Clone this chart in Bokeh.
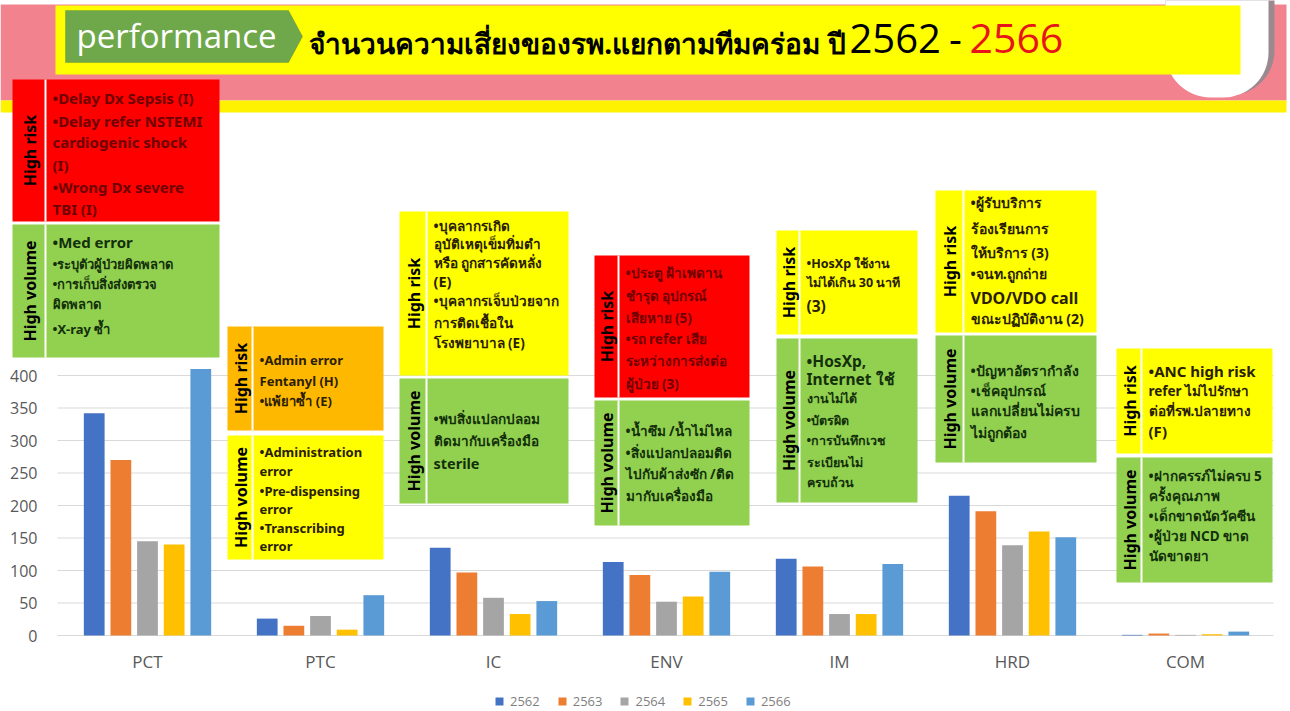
from bokeh.plotting import figure
from bokeh.models import (ColumnDataSource, Range1d, FixedTicker, Legend, LegendItem,
                          BoxAnnotation, Label, PolyAnnotation)
from bokeh.transform import dodge
from bokeh.embed import file_html
from bokeh.resources import INLINE

# ---------------- data ----------------
categories = ["PCT", "PTC", "IC", "ENV", "IM", "HRD", "COM"]
years = ["2562", "2563", "2564", "2565", "2566"]
v2562 = [342, 26, 135, 113, 118, 215, 1]
v2563 = [270, 15, 97, 93, 106, 191, 3]
v2564 = [145, 30, 58, 52, 33, 139, 1]
v2565 = [140, 9, 33, 60, 33, 160, 2]
v2566 = [410, 62, 53, 98, 110, 151, 6]
y_ticks = [0, 50, 100, 150, 200, 250, 300, 350, 400]
series_colors = ["#4472C4", "#ED7D31", "#A5A5A5", "#FFC000", "#5B9BD5"]

title_text = "จำนวนความเสี่ยงของรพ.แยกตามทีมคร่อม ปี"
title_from = "2562"
title_dash = "-"
title_to = "2566"

# annotation boxes: risk lines / volume lines
pct_risk = ["•Delay Dx Sepsis (I)", "•Delay refer NSTEMI", "cardiogenic shock", "(I)", "•Wrong  Dx severe", "TBI (I)"]
pct_vol = ["•Med error", "•ระบุตัวผู้ป่วยผิดพลาด", "•การเก็บสิ่งส่งตรวจ", "ผิดพลาด", "•X-ray ซ้ำ"]
ptc_risk = ["•Admin error", "Fentanyl (H)", "•แพ้ยาซ้ำ (E)"]
ptc_vol = ["•Administration", "error", "•Pre-dispensing", "error", "•Transcribing", "error"]
ic_risk = ["•บุคลากรเกิด", "อุบัติเหตุเข็มทิ่มตำ", "หรือ ถูกสารคัดหลั่ง", "(E)", "•บุคลากรเจ็บป่วยจาก", "การติดเชื้อใน", "โรงพยาบาล (E)"]
ic_vol = ["•พบสิ่งแปลกปลอม", "ติดมากับเครื่องมือ", "sterile"]
env_risk = ["•ประตู ฝ้าเพดาน", "ชำรุด อุปกรณ์", "เสียหาย (5)", "•รถ refer เสีย", "ระหว่างการส่งต่อ", "ผู้ป่วย (3)"]
env_vol = ["•น้ำซึม /น้ำไม่ไหล", "•สิ่งแปลกปลอมติด", "ไปกับผ้าส่งซัก /ติด", "มากับเครื่องมือ"]
im_risk = ["•HosXp ใช้งาน", "ไม่ได้เกิน 30 นาที", "(3)"]
im_vol = ["•HosXp,", "Internet  ใช้", "งานไม่ได้", "•บัตรผิด", "•การบันทึกเวช", "ระเบียนไม่", "ครบถ้วน"]
hrd_risk = ["•ผู้รับบริการ", "ร้องเรียนการ", "ให้บริการ  (3)", "•จนท.ถูกถ่าย", "VDO/VDO call", "ขณะปฏิบัติงาน (2)"]
hrd_vol = ["•ปัญหาอัตรากำลัง", "•เช็คอุปกรณ์", "แลกเปลี่ยนไม่ครบ", "ไม่ถูกต้อง"]
com_risk = ["•ANC high risk", "refer ไม่ไปรักษา", "ต่อที่รพ.ปลายทาง", "(F)"]
com_vol = ["•ฝากครรภ์ไม่ครบ 5", "ครั้งคุณภาพ", "•เด็กขาดนัดวัคซีน", "•ผู้ป่วย NCD ขาด", "นัดขาดยา"]

RED, GREEN, YELLOW, ORANGE = "#FF0000", "#92D050", "#FFFF00", "#FFB800"

# layout of annotation boxes (canvas px): x0, divider, x1, risk top/bottom, vol top/bottom, colours,
# line y's, font sizes (english, thai)
boxes = [
    dict(x0=12, xd=44, x1=219, r=(79, 221), v=(224, 357), rc=RED, vc=GREEN, fs=(15, 13),
         rl=pct_risk, ry=[97, 120, 141, 164, 186, 208], vl=pct_vol, vy=[241, 263, 283, 303, 328]),
    dict(x0=227, xd=251, x1=383, r=(326, 430), v=(435, 559), rc=ORANGE, vc=YELLOW, fs=(13, 13),
         rl=ptc_risk, ry=[359, 380, 400], vl=ptc_vol, vy=[451, 470, 490, 508, 527, 545]),
    dict(x0=399, xd=425, x1=568, r=(211, 375), v=(378, 503), rc=YELLOW, vc=GREEN, fs=(14.5, 13.5),
         rl=ic_risk, ry=[225, 243, 262, 280, 300, 322, 342], vl=ic_vol, vy=[418, 440, 462]),
    dict(x0=594, xd=617, x1=749, r=(255, 397), v=(400, 525), rc=RED, vc=GREEN, fs=(14, 13.5),
         rl=env_risk, ry=[272, 295, 317, 338, 360, 383], vl=env_vol, vy=[430, 452, 473, 495]),
    dict(x0=776, xd=798, x1=917, r=(230, 334), v=(338, 502), rc=YELLOW, vc=GREEN, fs=(15.5, 12.5),
         rl=im_risk, ry=[263, 282, 305], vl=im_vol, vy=[360, 378, 398, 420, 440, 462, 482]),
    dict(x0=935, xd=962, x1=1096, r=(190, 332), v=(335, 462), rc=YELLOW, vc=GREEN, fs=(16, 14),
         rl=hrd_risk, ry=[202, 228, 252, 273, 297, 318], vl=hrd_vol, vy=[370, 390, 410, 432]),
    dict(x0=1116, xd=1140, x1=1272, r=(348, 453), v=(457, 582), rc=YELLOW, vc=GREEN, fs=(15, 13.5),
         rl=com_risk, ry=[370, 390, 410, 430], vl=com_vol, vy=[475, 495, 515, 535, 555]),
]

W, H = 1290, 711
PX = 173.0            # pixels per category
X0 = 1 - 147 / PX     # data x at the canvas left edge (category 1 centred at 147 px)
Y_ZERO_PX, PX_PER_UNIT = 635, 0.65


def dx(X):
    return X0 + X / PX


xpos = list(range(1, len(categories) + 1))
src = ColumnDataSource(dict(x=xpos, y2562=v2562, y2563=v2563, y2564=v2564, y2565=v2565, y2566=v2566))

p = figure(width=W, height=H, x_range=Range1d(X0, X0 + W / PX),
           y_range=Range1d(-(H - Y_ZERO_PX) / PX_PER_UNIT, Y_ZERO_PX / PX_PER_UNIT),
           output_backend="svg", toolbar_location=None, title=None,
           min_border_left=0, min_border_right=0, min_border_top=0, min_border_bottom=0)
p.outline_line_color = None
p.background_fill_color = "white"
p.border_fill_color = "white"
p.xgrid.grid_line_color = None
p.ygrid.grid_line_color = None

FONT = "Noto Sans"


def S(X, Y):
    return X, H - Y


def box(x0, x1, y0, y1, color, radius=0):
    l, t = S(x0, y0)
    r, b = S(x1, y1)
    p.add_layout(BoxAnnotation(left=l, right=r, top=t, bottom=b, left_units="screen", right_units="screen",
                               top_units="screen", bottom_units="screen", fill_color=color, fill_alpha=1,
                               line_color=None, border_radius=radius, level="annotation"))


def label(X, Y, text, size, color="black", bold=False, align="left", angle=0, font=FONT):
    sx, sy = S(X, Y)
    p.add_layout(Label(x=sx, y=sy, x_units="screen", y_units="screen", text=text,
                       text_font=font, text_font_size=f"{size}px", text_color=color,
                       text_font_style="bold" if bold else "normal", text_align=align,
                       text_baseline="middle", angle=angle, angle_units="deg", level="annotation"))


# ---------------- gridlines (behind everything) ----------------
p.segment(x0=dx(57), x1=dx(1273), y0=y_ticks, y1=y_ticks, line_color="#D9D9D9", line_width=1, level="underlay")

# ---------------- header ----------------
box(0, 1286, 4, 100, "#F3828F")
box(0, 1286, 100, 112, "#FFF200")
box(1165, 1274, -60, 95, "#9A8A90", radius=45)
box(1165, 1268, -60, 97, "white", radius=45)
box(55, 1240, 5, 74, "#FFFF00")
pent = [(65, 10), (288, 10), (302, 36), (288, 62), (65, 62)]
p.add_layout(PolyAnnotation(xs=[S(a, b)[0] for a, b in pent], ys=[S(a, b)[1] for a, b in pent],
                            xs_units="screen", ys_units="screen", fill_color="#6EA84A", fill_alpha=1,
                            line_color="#4F7A35", line_width=1, level="annotation"))
label(176, 35, "performance", 33, color="white", align="center", font="Open Sans")
label(845, 42, title_text, 28, bold=True, align="right")
label(849, 38, title_from, 40, font="Open Sans")
label(955, 38, title_dash, 40, align="center", font="Open Sans")
label(969, 38, title_to, 41, color="#E8141B", font="Open Sans")

# ---------------- annotation boxes ----------------
for bx in boxes:
    for (yt, yb), col, lines, ys, tag in ((bx["r"], bx["rc"], bx["rl"], bx["ry"], "High risk"),
                                          (bx["v"], bx["vc"], bx["vl"], bx["vy"], "High volume")):
        box(bx["x0"], bx["x1"], yt, yb, col)
        box(bx["xd"], bx["xd"] + 2, yt, yb, "white")
        label((bx["x0"] + bx["xd"]) / 2 + 1, (yt + yb) / 2, tag, 16, bold=True, align="center", angle=90)
        tcol = "#6E0000" if col == RED else ("#13300A" if col == GREEN else "#2A2000")
        for t, yy in zip(lines, ys):
            ascii_share = sum(ch.isascii() for ch in t) / len(t)
            size = bx["fs"][0] if ascii_share > 0.6 else bx["fs"][1]
            label(bx["xd"] + 8, yy, t, size, color=tcol, bold=True)

# ---------------- bars ----------------
offsets = [-0.308, -0.154, 0.0, 0.154, 0.308]
items = []
for yr, off, col in zip(years, offsets, series_colors):
    r = p.vbar(x=dodge("x", off), top="y" + yr, width=0.12, source=src, fill_color=col, line_color=None)
    items.append(LegendItem(label=yr, renderers=[r]))

legend = Legend(items=items, orientation="horizontal", location=(494, 1), border_line_color=None,
                background_fill_alpha=0, label_text_font="Open Sans", label_text_font_size="13px",
                label_text_color="#7F7F7F", glyph_width=10, glyph_height=10, spacing=17, padding=2, margin=0,
                label_standoff=6)
p.add_layout(legend)

# ---------------- axes ----------------
p.yaxis.fixed_location = dx(57)
p.yaxis.ticker = FixedTicker(ticks=y_ticks)
p.yaxis.axis_line_color = None
p.yaxis.major_tick_line_color = None
p.yaxis.minor_tick_line_color = None
p.yaxis.major_label_text_font = "Open Sans"
p.yaxis.major_label_text_font_size = "16px"
p.yaxis.major_label_text_color = "#595959"
p.yaxis.major_label_standoff = 14

p.xaxis.fixed_location = 0
p.xaxis.ticker = FixedTicker(ticks=xpos)
p.xaxis.major_label_overrides = {i: c for i, c in zip(xpos, categories)}
p.xaxis.axis_line_color = None
p.xaxis.major_tick_line_color = None
p.xaxis.minor_tick_line_color = None
p.xaxis.major_label_text_font = "Open Sans"
p.xaxis.major_label_text_font_size = "17px"
p.xaxis.major_label_text_color = "#595959"
p.xaxis.major_label_standoff = 8

open("out.html", "w").write(file_html(p, INLINE))
